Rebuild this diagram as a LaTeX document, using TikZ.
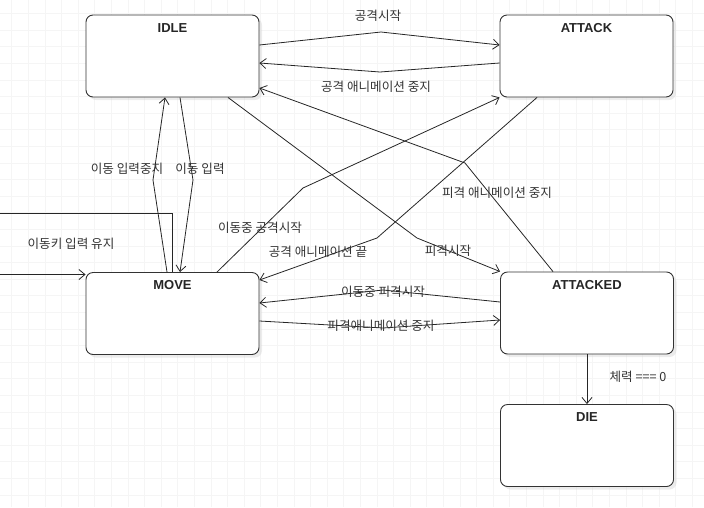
\documentclass[tikz,border=0pt]{standalone}
\usepackage{fontspec}
\setmainfont{Liberation Sans}
\newfontfamily\kr{Noto Sans CJK KR}
\usetikzlibrary{arrows.meta,shadows}

\tikzset{
  estado/.style={draw=black!80, line width=0.9pt, rounded corners=7pt, fill=white,
    minimum width=173pt, minimum height=82pt, inner sep=0pt,
    drop shadow={shadow xshift=3pt, shadow yshift=-3pt, fill=black!15, opacity=0.5}},
  titulo/.style={anchor=north, yshift=-8.5pt, inner sep=0pt,
    font=\fontsize{13}{15}\selectfont\bfseries, text=black!85},
  flecha/.style={draw=black!85, line width=0.8pt, -{Straight Barb[length=6pt,width=10pt]}},
  etiq/.style={font=\kr\fontsize{12.6}{14}\selectfont, text=black!80, inner sep=0pt},
  rejilla/.style={draw=black!4, line width=0.6pt},
}

\begin{document}
\begin{tikzpicture}[x=1pt, y=-1pt]
		
		\clip (0,0) rectangle (704,507);
		\useasboundingbox (0,0) rectangle (704,507);
		
		% rejilla
		\foreach \i in {0,...,42} \draw[rejilla] ({11.7+16.6*\i},0) -- ++(0,507);
		\foreach \j in {0,...,30} \draw[rejilla] (0,{13.4+16.6*\j}) -- ++(704,0);
		
		% estados
		\node[estado, label={[titulo]north:IDLE}] (idle) at (172.5,56) {};
		\node[estado, label={[titulo]north:ATTACK}] (attack) at (586.5,56) {};
		\node[estado, label={[titulo]north:MOVE}] (move) at (172.5,313.5) {};
		\node[estado, label={[titulo]north:ATTACKED}] (attacked) at (587,313) {};
		\node[estado, label={[titulo]north:DIE}] (die) at (587,445.5) {};
		
		% idle y attack
		\draw[flecha] ([yshift=11pt]idle.east) -- (381,32) -- ([yshift=11pt]attack.west);
		\draw[flecha] ([yshift=-7pt]attack.west) -- (380,72) -- ([yshift=-7pt]idle.east);
		
		% idle y move
		\draw[flecha] ([xshift=-5.5pt]move.north) -- (153,180) -- ([xshift=-7.5pt]idle.south);
		\draw[flecha] ([xshift=7.5pt]idle.south) -- (193,180) -- ([xshift=7.5pt]move.north);
		
		% move sobre si mismo
		\draw[flecha] (move.north) -- ++(0,-59) -- ++(-200,0) |- ([yshift=39pt]move.west);
		
		% las diagonales
		\draw[flecha] ([xshift=44.5pt]move.north) -- (303,188) -- (attack.south west);
		\draw[flecha] ([xshift=-49.5pt]attack.south) -- (377,238) -- ([yshift=33.5pt]move.east);
		\draw[flecha] ([xshift=55.5pt]idle.south) -- (417,238) -- (attacked.north west);
		\draw[flecha] ([xshift=-34pt]attacked.north) -- (465,163) -- ([yshift=-32pt]idle.east);
		
		% move y attacked
		\draw[flecha] ([yshift=11pt]attacked.west) -- (383,290) -- ([yshift=10.5pt]move.east);
		\draw[flecha] ([yshift=-7.5pt]move.east) -- (383,328) -- ([yshift=-7pt]attacked.west);
		
		% die
		\draw[flecha] (attacked.south) -- (die.north);
		
		% textos
		\node[etiq] (t1) at (378,16) {공격시작};
		\node[etiq] (t2) at (376,87) {공격 애니메이션 중지};
		\node[etiq] (t3) at (127,169) {이동 입력중지};
		\node[etiq] (t4) at (200,169) {이동 입력};
		\node[etiq] (t5) at (71,244) {이동키 입력 유지};
		\node[etiq] (t6) at (260,228) {이동중 공격시작};
		\node[etiq] (t7) at (318,252) {공격 애니메이션 끝};
		\node[etiq] (t8) at (448,251) {피격시작};
		\node[etiq] (t9) at (497,193) {피격 애니메이션 중지};
		\node[etiq] (t10) at (383,292) {이동중 피격시작};
		\node[etiq] (t11) at (381,326) {피격애니메이션 중지};
		\node[etiq] (t12) at (638,377) {체력 === 0};
		
\end{tikzpicture}
\end{document}
